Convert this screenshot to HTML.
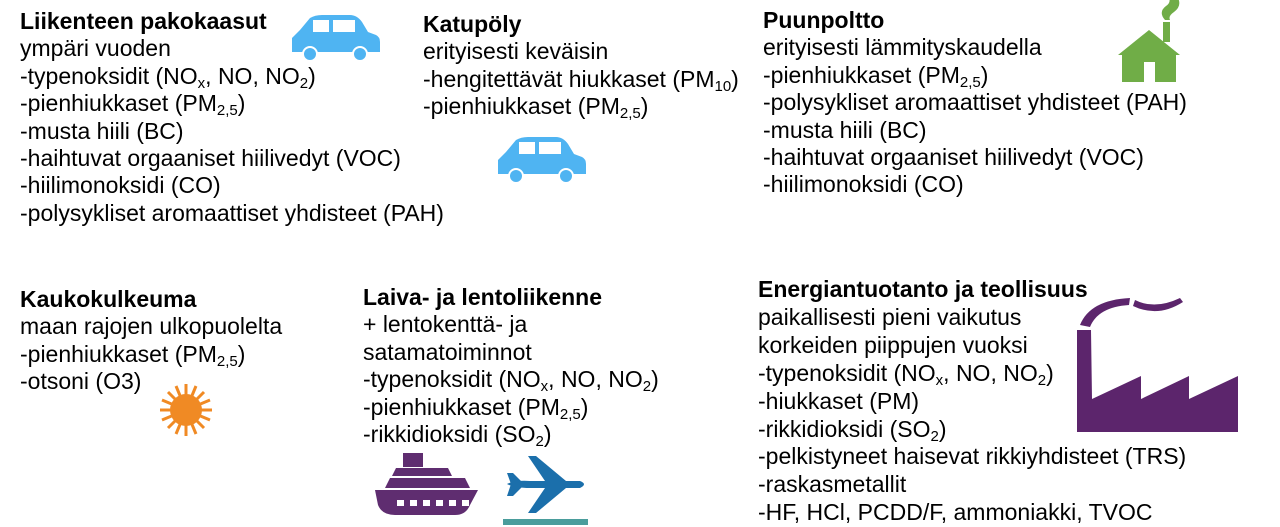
<!DOCTYPE html>
<html><head><meta charset="utf-8"><style>
body{margin:0;width:1280px;height:525px;overflow:hidden;background:#fff;font-family:"Liberation Sans",Arial,sans-serif;color:#000;position:relative}
.b{position:absolute;font-size:23px;line-height:27.4px;white-space:nowrap}
.b b{font-weight:bold}
sub{font-size:15px;vertical-align:-4px;line-height:0}
svg{position:absolute}
</style></head><body>
<svg width="1280" height="525" style="left:0;top:0">
<g id="car" fill="#4fb4f2">
<path d="M292 38 L300 30 L310 18 Q315 15 322 15 L350 15 Q357 15 362 22 L368 32 L376 35 Q380 37 380 42 L380 52 L292 52 Z"/>
<rect x="313" y="20" width="16" height="12" fill="#fff"/><rect x="333" y="20" width="22" height="12" fill="#fff"/>
<circle cx="310" cy="54" r="8" fill="#fff"/><circle cx="310" cy="54" r="6"/>
<circle cx="360" cy="54" r="8" fill="#fff"/><circle cx="360" cy="54" r="6"/>
</g>
<use href="#car" transform="translate(206,122)"/>
<g fill="#70ad47">
<path d="M1118 55 L1149 30 L1180 55 L1176 55 L1176 82 L1122 82 L1122 55 Z"/>
<rect x="1163" y="22" width="7" height="20"/>
<rect x="1144" y="62" width="11" height="20" fill="#fff"/>
<path d="M1165 20 Q1158 12 1166 6 Q1172 2 1168 -4 L1178 -2 Q1182 6 1174 12 Q1168 16 1170 20 Z"/>
</g>
<g fill="#f08a24"><circle cx="186" cy="410" r="16"/>
<g stroke="#f08a24" stroke-width="3">
<line x1="186" y1="384" x2="186" y2="436"/><line x1="160" y1="410" x2="212" y2="410"/>
<line x1="168" y1="392" x2="204" y2="428"/><line x1="204" y1="392" x2="168" y2="428"/>
<line x1="176" y1="386" x2="196" y2="434"/><line x1="196" y1="386" x2="176" y2="434"/>
<line x1="162" y1="400" x2="210" y2="420"/><line x1="162" y1="420" x2="210" y2="400"/></g></g>
<g fill="#5c256c">
<path d="M1080 325 Q1090 300 1130 298 L1129 305 Q1098 307 1090 327 Z"/>
<path d="M1135 300 Q1155 310 1180 298 L1183 302 Q1158 318 1133 306 Z"/>
<path d="M1077 330 L1091 330 L1092 399 L1141 376 L1141 399 L1189 376 L1189 399 L1238 376 L1238 432 L1077 432 Z"/>
</g>
<g fill="#5f2d70">
<path d="M375 490 L478 490 L470 505 Q466 515 455 515 L395 515 Q382 515 378 505 Z"/>
<path d="M385 488 L390 478 L465 478 L470 488 Z"/>
<path d="M392 476 L396 468 L448 468 L452 476 Z"/>
<rect x="403" y="453" width="20" height="14"/>
</g>
<g fill="#fff"><rect x="397" y="500" width="7" height="6"/><rect x="410" y="500" width="7" height="6"/><rect x="423" y="500" width="7" height="6"/><rect x="436" y="500" width="7" height="6"/><rect x="449" y="500" width="7" height="6"/><rect x="462" y="500" width="7" height="6"/></g>
<g fill="#1b6fab">
<path d="M507 484 Q515 480 530 481 L545 481 L528 456 L536 456 L566 481 L580 481 Q588 484 580 488 L566 488 L536 513 L528 513 L545 488 L530 488 Q515 488 507 484 Z"/>
<path d="M507 473 L513 473 L522 482 L522 487 L513 496 L507 496 L511 484 Z"/>
</g>
<rect x="503" y="519" width="85" height="6" fill="#4a9d9c"/>
</svg>
<div class="b" style="left:20px;top:8px"><b>Liikenteen pakokaasut</b><br>ympäri vuoden<br>-typenoksidit (NO<sub>x</sub>, NO, NO<sub>2</sub>)<br>-pienhiukkaset (PM<sub>2,5</sub>)<br>-musta hiili (BC)<br>-haihtuvat orgaaniset hiilivedyt (VOC)<br>-hiilimonoksidi (CO)<br>-polysykliset aromaattiset yhdisteet (PAH)</div>
<div class="b" style="left:423px;top:11px"><b>Katupöly</b><br>erityisesti keväisin<br>-hengitettävät hiukkaset (PM<sub>10</sub>)<br>-pienhiukkaset (PM<sub>2,5</sub>)</div>
<div class="b" style="left:763px;top:7px"><b>Puunpoltto</b><br>erityisesti lämmityskaudella<br>-pienhiukkaset (PM<sub>2,5</sub>)<br>-polysykliset aromaattiset yhdisteet (PAH)<br>-musta hiili (BC)<br>-haihtuvat orgaaniset hiilivedyt (VOC)<br>-hiilimonoksidi (CO)</div>
<div class="b" style="left:20px;top:286px"><b>Kaukokulkeuma</b><br>maan rajojen ulkopuolelta<br>-pienhiukkaset (PM<sub>2,5</sub>)<br>-otsoni (O3)</div>
<div class="b" style="left:363px;top:284px"><b>Laiva- ja lentoliikenne</b><br>+ lentokenttä- ja<br>satamatoiminnot<br>-typenoksidit (NO<sub>x</sub>, NO, NO<sub>2</sub>)<br>-pienhiukkaset (PM<sub>2,5</sub>)<br>-rikkidioksidi (SO<sub>2</sub>)</div>
<div class="b" style="left:758px;top:276px;line-height:27.9px"><b>Energiantuotanto ja teollisuus</b><br>paikallisesti pieni vaikutus<br>korkeiden piippujen vuoksi<br>-typenoksidit (NO<sub>x</sub>, NO, NO<sub>2</sub>)<br>-hiukkaset (PM)<br>-rikkidioksidi (SO<sub>2</sub>)<br>-pelkistyneet haisevat rikkiyhdisteet (TRS)<br>-raskasmetallit<br>-HF, HCl, PCDD/F, ammoniakki, TVOC</div>
</body></html>
